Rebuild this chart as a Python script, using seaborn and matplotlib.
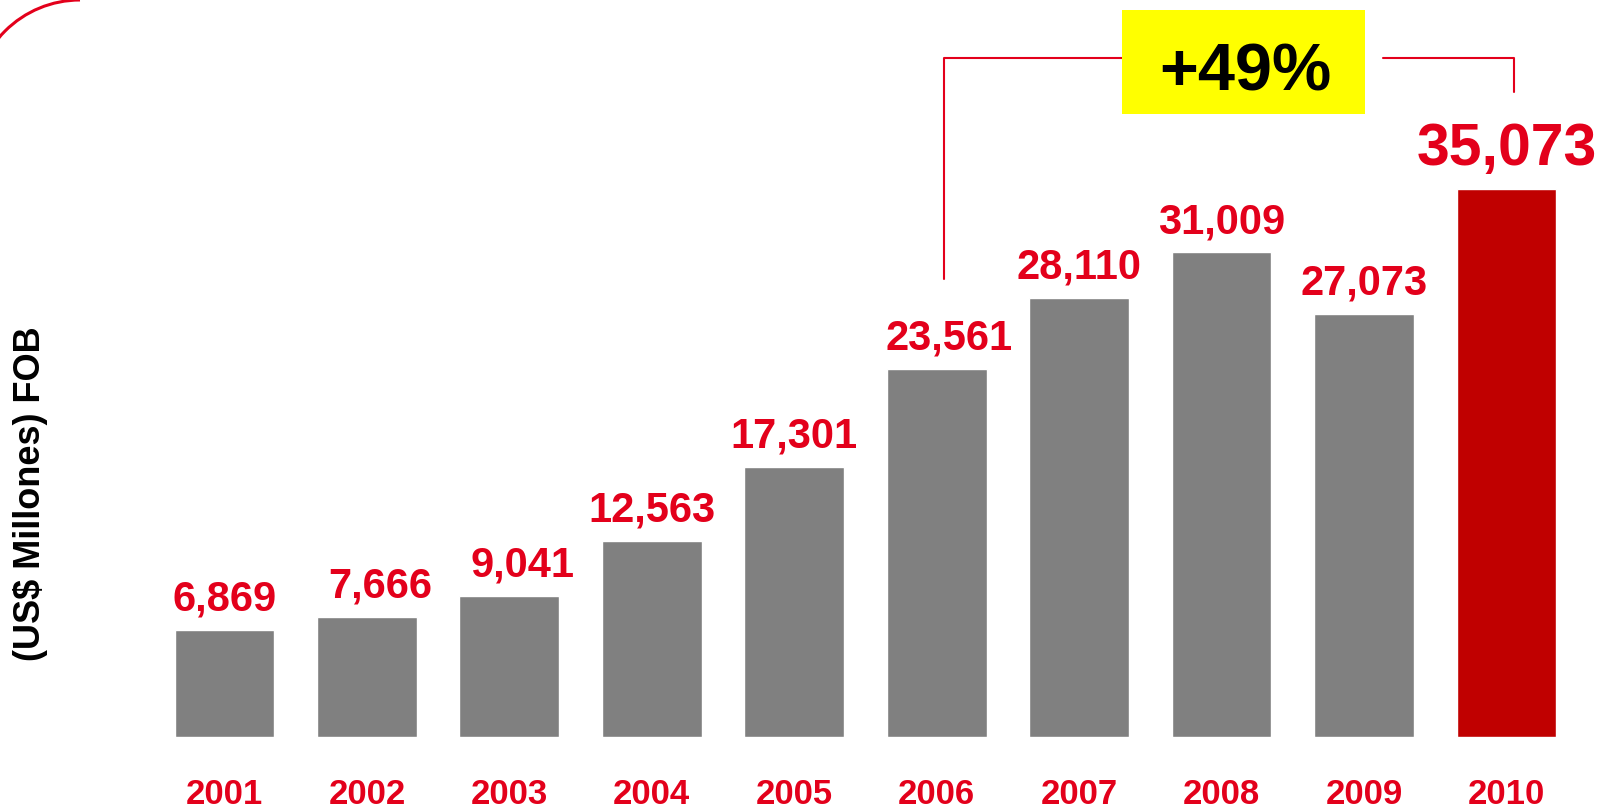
import matplotlib

matplotlib.use("Agg")  # headless
import matplotlib.pyplot as plt
import seaborn as sns
from matplotlib.patches import Arc, Rectangle
from matplotlib.transforms import IdentityTransform

# Exportaciones FOB, US$ millones
years = ["2001", "2002", "2003", "2004", "2005", "2006", "2007", "2008", "2009", "2010"]
exports = [6869, 7666, 9041, 12563, 17301, 23561, 28110, 31009, 27073, 35073]
growth_label = "+49%"
y_title = "(US$ Millones) FOB"

GREY = "#808080"
DARK_RED = "#c00000"
RED = "#e3001b"
YELLOW = "#ffff00"

bar_colors = [GREY] * (len(years) - 1) + [DARK_RED]
# a few value labels sit right of their bar centre in the original slide (points)
label_dx = [0, 9.5, 9.5, 0, 0, 9, 0, 0, 0, 0]

sns.set_theme(style="white")
plt.rcParams["font.family"] = ["Liberation Sans", "DejaVu Sans"]

fig = plt.figure(figsize=(16.03, 8.08), dpi=100)
ax = fig.add_axes([0.0956, 0.0879, 0.8886, 0.9121])
sns.barplot(
    x=years,
    y=exports,
    hue=years,
    palette=bar_colors,
    width=0.7,
    saturation=1,
    legend=False,
    ax=ax,
)
ax.set_xlim(-0.5, len(years) - 0.5)
ax.set_ylim(0, 47170)

# value labels: red, the last (2010) one larger
last = len(exports) - 1
for i, v in enumerate(exports):
    big = i == last
    ax.annotate(
        f"{v:,}",
        (i, v),
        xytext=(label_dx[i], 9 if big else 7.5),
        textcoords="offset points",
        ha="center",
        va="bottom",
        color=RED,
        fontsize=42.5 if big else 30,
        fontweight="bold",
    )

ax.tick_params(axis="x", length=0, pad=29.5, labelsize=25, labelcolor=RED)
for lbl in ax.get_xticklabels():
    lbl.set_fontweight("bold")
ax.set_yticks([])
ax.set_xlabel("")
ax.set_ylabel(y_title, fontsize=26, fontweight="bold", color="black")
ax.yaxis.set_label_coords(-0.0859, 0.33)
ax.yaxis.label.set_va("center")
sns.despine(ax=ax, left=True, bottom=True)

# growth bracket from 2006 to 2010 with the yellow callout
i0, i1 = years.index("2006"), years.index("2010")
top = max(exports) + 8400
box_x0, box_x1 = 6.30, 8.01
ax.plot([i0 + 0.05, i0 + 0.05, box_x0], [exports[i0] + 5750, top, top],
        color=RED, lw=1.5, clip_on=False)
ax.plot([8.135, i1 + 0.05, i1 + 0.05], [top, top, exports[i1] + 6200],
        color=RED, lw=1.5, clip_on=False)
ax.add_patch(Rectangle((box_x0, 39870), box_x1 - box_x0, 6660, facecolor=YELLOW,
                       edgecolor="none", clip_on=False, zorder=3))
ax.text((box_x0 + box_x1) / 2 + 0.01, 42480, growth_label, ha="center", va="center",
        fontsize=48, fontweight="bold", color="black", zorder=4)

# slide frame corner, top left
fig.add_artist(Arc((80, 808 - 106), 212, 212, theta1=90, theta2=180,
                   color=RED, lw=2.2, transform=IdentityTransform()))

fig.savefig("out.png", dpi=100)
plt.close(fig)
